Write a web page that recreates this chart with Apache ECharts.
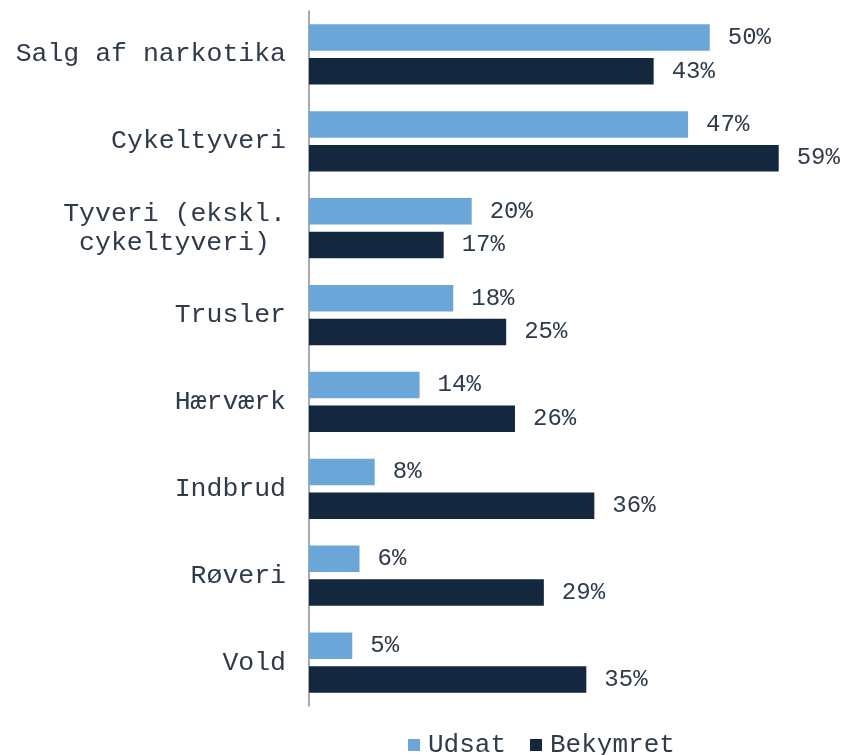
<!DOCTYPE html>
<html>
<head>
<meta charset="utf-8">
<script src="https://cdn.jsdelivr.net/npm/echarts@6/dist/echarts.min.js"></script>
<style>
  html, body { margin: 0; padding: 0; background: #fff; }
  #chart { width: 845px; height: 755px; }
</style>
</head>
<body>
<div id="chart"></div>
<script>
const categories = ['Salg af narkotika', 'Cykeltyveri', 'Tyveri (ekskl.\ncykeltyveri)', 'Trusler', 'Hærværk', 'Indbrud', 'Røveri', 'Vold']
// bar lengths; labels show the rounded value
const udsat = [50.0, 47.3, 20.3, 18.0, 13.8, 8.2, 6.3, 5.4]
const bekymret = [43.0, 58.6, 16.8, 24.6, 25.7, 35.6, 29.3, 34.6]

const font = "'Liberation Mono', 'Courier New', monospace"
const textColor = '#2e3b4a'

const chart = echarts.init(document.getElementById('chart'), null, { renderer: 'canvas' })

const labelStyle = {
  show: true,
  position: 'right',
  distance: 18,
  formatter: p => Math.round(p.value) + '%',
  fontFamily: font,
  fontSize: 24,
  color: textColor
}

const option = {
  animation: false,
  grid: { left: 309, right: 7, top: 11, bottom: 49 },
  legend: {
    left: 403,
    top: 727,
    itemWidth: 12,
    itemHeight: 12,
    itemGap: 24,
    icon: 'rect',
    textStyle: { fontFamily: font, fontSize: 26, color: textColor, padding: [0, 0, 0, 3] },
    data: ['Udsat', 'Bekymret']
  },
  xAxis: {
    type: 'value',
    min: 0,
    max: 66,
    show: false
  },
  yAxis: {
    type: 'category',
    data: categories,
    inverse: true,
    axisLine: { show: true, lineStyle: { color: '#8a8f96', width: 1.5 } },
    axisTick: { show: false },
    splitLine: { show: false },
    axisLabel: {
      margin: 23,
      fontFamily: font,
      fontSize: 26.5,
      color: textColor,
      lineHeight: 29,
      formatter: function (v) {
        if (v.indexOf('\n') >= 0) {
          return v.split('\n').map(s => '{c|' + s + '}').join('\n')
        }
        return v
      },
      rich: {
        c: { width: 223, align: 'center', fontFamily: font, fontSize: 26.5, color: textColor, lineHeight: 29 }
      }
    }
  },
  series: [
    {
      name: 'Udsat',
      type: 'bar',
      data: udsat,
      barWidth: 26.5,
      barGap: '27%',
      itemStyle: { color: '#6aa7d8' },
      label: labelStyle
    },
    {
      name: 'Bekymret',
      type: 'bar',
      data: bekymret,
      barWidth: 26.5,
      barGap: '27%',
      itemStyle: { color: '#13273e' },
      label: labelStyle
    }
  ]
}

chart.setOption(option)
</script>
</body>
</html>
